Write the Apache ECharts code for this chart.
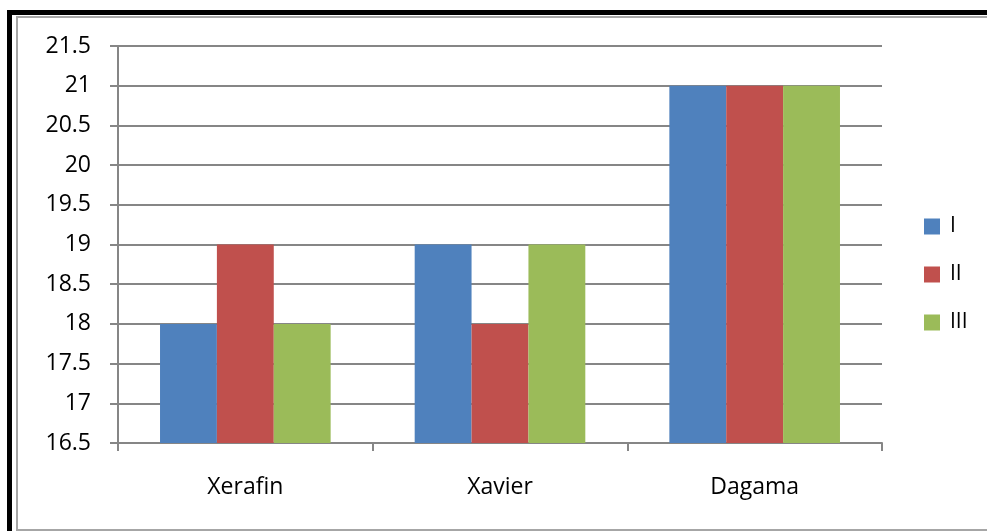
<!DOCTYPE html>
<html>
<head>
<meta charset="utf-8">
<script src="https://cdn.jsdelivr.net/npm/echarts@6/dist/echarts.min.js"></script>
<style>
  html, body { margin: 0; padding: 0; width: 987px; height: 531px; overflow: hidden; background: #fff; }
  .outer { position: absolute; left: 7px; top: 10px; width: 1100px; height: 700px; border-left: 5px solid #000; border-top: 5px solid #000; }
  .inner { position: absolute; left: 16px; top: 16px; width: 1100px; height: 511px; border: 2px solid #a6a6a6; }
  #chart { position: absolute; left: 0; top: 0; width: 987px; height: 531px; }
</style>
</head>
<body>
<div class="outer"></div>
<div class="inner"></div>
<div id="chart"></div>
<script>
const categories = ['Xerafin', 'Xavier', 'Dagama'];
const seriesI = [18, 19, 21];
const seriesII = [19, 18, 21];
const seriesIII = [18, 19, 21];
const seriesNames = ['I', 'II', 'III'];
const colors = ['#4F81BD', '#C0504D', '#9BBB59'];

const font = 'Open Sans';
const myChart = echarts.init(document.getElementById('chart'));

myChart.setOption({
    animation: false,
    color: colors,
    grid: { left: 118, right: 105, top: 46, bottom: 88 },
    legend: {
        orient: 'vertical',
        left: 919,
        top: 211,
        itemWidth: 16,
        itemHeight: 16,
        itemGap: 27,
        icon: 'rect',
        textStyle: { fontFamily: font, fontSize: 21, lineHeight: 16, color: '#000', padding: [0, 0, 0, 5] },
        data: seriesNames
    },
    xAxis: {
        type: 'category',
        data: categories,
        axisLine: { lineStyle: { color: '#868686', width: 2 } },
        axisTick: { show: true, length: 8, lineStyle: { color: '#868686', width: 2 } },
        axisLabel: { fontFamily: font, fontSize: 23, color: '#000', margin: 33 }
    },
    yAxis: {
        type: 'value',
        min: 16.5,
        max: 21.5,
        interval: 0.5,
        axisLine: { show: true, lineStyle: { color: '#868686', width: 2 } },
        axisTick: { show: true, inside: false, length: 8, lineStyle: { color: '#868686', width: 2 } },
        splitLine: { lineStyle: { color: '#868686', width: 2 } },
        axisLabel: { fontFamily: font, fontSize: 23, color: '#000', margin: 27 }
    },
    series: [
        { name: seriesNames[0], type: 'bar', data: seriesI, barGap: '0%', barCategoryGap: '33%' },
        { name: seriesNames[1], type: 'bar', data: seriesII, barGap: '0%', barCategoryGap: '33%' },
        { name: seriesNames[2], type: 'bar', data: seriesIII, barGap: '0%', barCategoryGap: '33%' }
    ]
});
</script>
</body>
</html>
